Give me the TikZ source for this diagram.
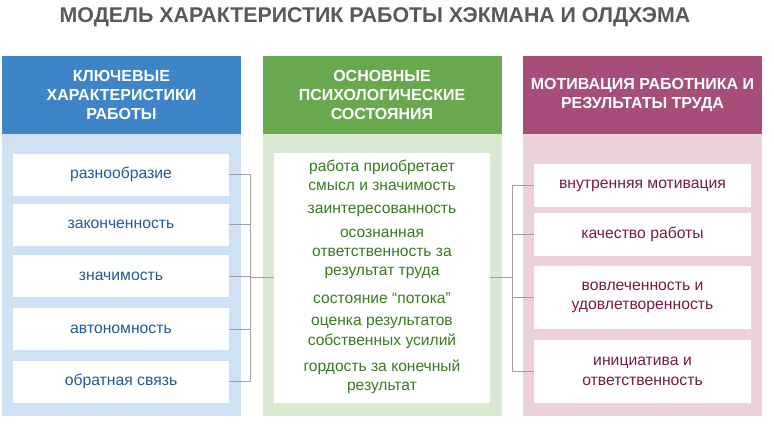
\documentclass[tikz,border=0pt]{standalone}
\usepackage{fontspec}
\setmainfont{Liberation Sans}
\definecolor{hdgray}{HTML}{595959}
\definecolor{hdblue}{HTML}{3D85C6}
\definecolor{bgblue}{HTML}{CFE2F3}
\definecolor{txblue}{HTML}{215A99}
\definecolor{hdgreen}{HTML}{6AA84F}
\definecolor{bggreen}{HTML}{D9EAD3}
\definecolor{txgreen}{HTML}{3C7A22}
\definecolor{hdpink}{HTML}{A64D79}
\definecolor{bgpink}{HTML}{EAD1DC}
\definecolor{txpink}{HTML}{741B47}
\definecolor{linkgray}{HTML}{A0A0A0}

\begin{document}
\begin{tikzpicture}[x=0.75pt, y=-0.75pt,
    header/.style={inner sep=0pt, minimum width=179.25pt, minimum height=58.5pt, text=white, align=center,
        font=\bfseries\fontsize{12}{14.6}\selectfont},
    column/.style={inner sep=0pt, minimum width=179.25pt, minimum height=211.5pt},
    item/.style={fill=white, inner sep=0pt, minimum width=162pt, minimum height=31.5pt, align=center,
        font=\fontsize{11.8}{14.6}\selectfont},
    state/.style={inner sep=0pt, align=center, text=txgreen, font=\fontsize{11.7}{14.4}\selectfont},
    link/.style={draw=linkgray, line width=0.6pt}]
    \useasboundingbox (0, 0) rectangle (774, 425);
    \node[text=hdgray, font=\bfseries\fontsize{16}{19}\selectfont] (title) at (375, 17.5) {МОДЕЛЬ ХАРАКТЕРИСТИК РАБОТЫ ХЭКМАНА И ОЛДХЭМА};

    \node[column, fill=bgblue] (b1) at (121.5, 275) {};
    \node[column, fill=bggreen] (b2) at (382, 275) {};
    \node[column, fill=bgpink] (b3) at (642.5, 275) {};
    \node[header, fill=hdblue] (h1) at (121.5, 95) {КЛЮЧЕВЫЕ\\ХАРАКТЕРИСТИКИ\\РАБОТЫ};
    \node[header, fill=hdgreen] (h2) at (382, 95) {ОСНОВНЫЕ\\ПСИХОЛОГИЧЕСКИЕ\\СОСТОЯНИЯ};
    \node[header, fill=hdpink] (h3) at (642.5, 95) {МОТИВАЦИЯ РАБОТНИКА И\\РЕЗУЛЬТАТЫ ТРУДА};

    \node[item, text=txblue] (k1) at (121, 174.5) {разнообразие};
    \node[item, text=txblue] (k2) at (121, 224.5) {законченность};
    \node[item, text=txblue] (k3) at (121, 276) {значимость};
    \node[item, text=txblue] (k4) at (121, 329) {автономность};
    \node[item, text=txblue] (k5) at (121, 381.5) {обратная связь};

    \node[fill=white, inner sep=0pt, minimum width=162pt, minimum height=187.5pt] (s0) at (382, 278) {};
    \node[state] (s1) at (382, 175) {работа приобретает\\смысл и значимость};
    \node[state] (s2) at (382, 211) {заинтересованность};
    \node[state] (s3) at (382, 254) {осознанная\\ответственность за\\результат труда};
    \node[state] (s4) at (382, 298.5) {состояние “потока”};
    \node[state] (s5) at (382, 333) {оценка результатов\\собственных усилий};
    \node[state] (s6) at (382, 377) {гордость за конечный\\результат};

    \node[item, text=txpink, minimum width=162.75pt, minimum height=32.25pt] (m1) at (642.5, 185.5) {внутренняя мотивация};
    \node[item, text=txpink, minimum width=162.75pt, minimum height=32.25pt] (m2) at (642.5, 234.5) {качество работы};
    \node[item, text=txpink, minimum width=162.75pt, minimum height=47.25pt] (m3) at (642.5, 297.5) {вовлеченность и\\удовлетворенность};
    \node[item, text=txpink, minimum width=162.75pt, minimum height=47.25pt] (m4) at (642.5, 371.5) {инициатива и\\ответственность};

    \coordinate (j1) at (250, 277);
    \coordinate (j2) at (512, 277);
    \draw[link] (k1.east) -| (j1);
    \draw[link] (k2.east) -| (j1);
    \draw[link] (k3.east) -| (j1);
    \draw[link] (k4.east) -| (j1);
    \draw[link] (k5.east) -| (j1);
    \draw[link] (j1) -- (j1 -| s0.west);
    \draw[link] (j2 -| s0.east) -- (j2);
    \draw[link] (j2) |- (m1.west);
    \draw[link] (j2) |- (m2.west);
    \draw[link] (j2) |- (m3.west);
    \draw[link] (j2) |- (m4.west);
\end{tikzpicture}
\end{document}
